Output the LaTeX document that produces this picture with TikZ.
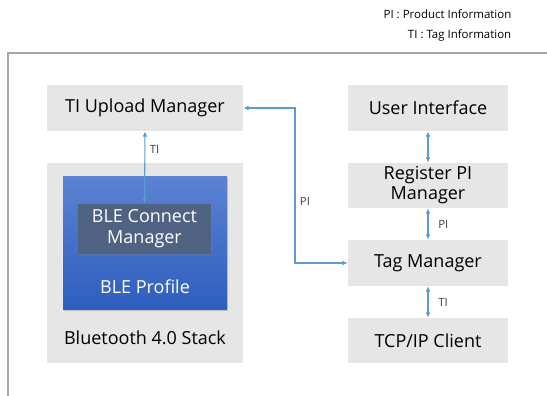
\documentclass[tikz,border=0pt]{standalone}
\usepackage{fontspec}
\setmainfont{Open Sans}
\usetikzlibrary{arrows.meta,shadows}
\definecolor{boxgray}{HTML}{E7E6E6}
\definecolor{linkblue}{HTML}{5B9BD5}
\definecolor{profiletop}{HTML}{5C82D2}
\definecolor{profilebot}{HTML}{2E5EBF}
\definecolor{connectfill}{HTML}{4F6281}
\definecolor{framegray}{HTML}{A6A6A6}

\begin{document}
\begin{tikzpicture}[x=0.75pt,y=-0.75pt,
    module/.style={fill=boxgray, inner sep=0pt, font=\fontsize{13.5}{15.5}\selectfont, align=center},
    link/.style={linkblue, line width=0.8pt, {Latex[length=4pt,width=3.5pt]}-{Latex[length=4pt,width=3.5pt]}},
    tag/.style={font=\fontsize{8.5}{10}\selectfont, text=black!75}]
    \useasboundingbox (0,0) rectangle (547,396);
    % legend
    \node[anchor=east, font=\fontsize{8.6}{10}\selectfont] (legpi) at (516,14) {PI : Product Information};
    \node[anchor=east, font=\fontsize{8.6}{10}\selectfont] (legti) at (516,35) {TI : Tag Information};
    \draw[framegray, line width=1.5pt] (8,396) |- (547,53);
    % left column
    \node[module, minimum width=147pt, minimum height=34.5pt] (upload) at (145,108) {TI Upload Manager};
    \node[module, minimum width=147pt, minimum height=150pt] (stack) at (145,263) {};
    \node[module, fill=none] (stacktext) at (145,338) {Bluetooth 4.0 Stack};
    \node[inner sep=0pt, minimum width=123pt, minimum height=99.75pt, top color=profiletop, bottom color=profilebot,
        drop shadow={shadow xshift=1pt, shadow yshift=-1.2pt, opacity=.35}] (profile) at (145,242.5) {};
    \node[text=white, font=\fontsize{13.5}{15.5}\selectfont] (profiletext) at (145,287) {BLE Profile};
    \node[inner sep=0pt, minimum width=99.75pt, minimum height=37.5pt, fill=connectfill, text=white, align=center,
        font=\fontsize{13.5}{15.75}\selectfont, drop shadow={shadow xshift=.8pt, shadow yshift=-1pt, opacity=.35}] (connect) at (144.5,229) {BLE Connect\\Manager};
    % right column
    \node[module, minimum width=120pt, minimum height=34.5pt] (ui) at (428,108) {User Interface};
    \node[module, minimum width=120pt, minimum height=33.75pt, font=\fontsize{13.5}{15}\selectfont] (register) at (428,185.5) {Register PI\\Manager};
    \node[module, minimum width=120pt, minimum height=34.5pt] (tagmgr) at (428,263) {Tag Manager};
    \node[module, minimum width=120pt, minimum height=33.75pt] (tcp) at (428,340.5) {TCP/IP Client};
    % links
    \coordinate (bend) at (295,0);
    \draw[link] (connect.north) -- node[tag, right, pos=.75] {TI} (upload.south);
    \draw[link] (upload.east) -- (upload.east -| bend) |- node[tag, right, pos=.3] {PI} (tagmgr.west);
    \draw[link] (ui.south) -- (register.north);
    \draw[link] (register.south) -- node[tag, right, xshift=4pt] {PI} (tagmgr.north);
    \draw[link] (tagmgr.south) -- node[tag, right, xshift=4pt] {TI} (tcp.north);
\end{tikzpicture}
\end{document}
